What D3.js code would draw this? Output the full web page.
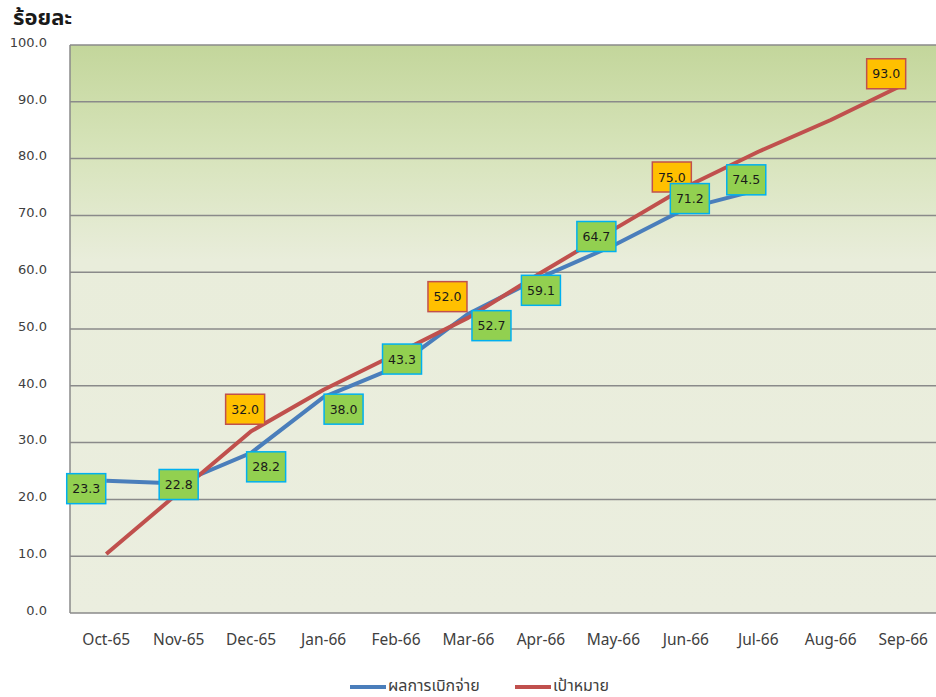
<!DOCTYPE html>
<html><head><meta charset="utf-8">
<script src="https://cdn.jsdelivr.net/npm/d3@7/dist/d3.min.js"></script>
<style>body{margin:0;background:#fff}svg{display:block}</style>
</head><body>
<svg id="c" width="936" height="697"></svg>
<script>
const months = ["Oct-65","Nov-65","Dec-65","Jan-66","Feb-66","Mar-66","Apr-66","May-66","Jun-66","Jul-66","Aug-66","Sep-66"];
const actual = [23.3,22.8,28.2,38.0,43.3,52.7,59.1,64.7,71.2,74.5];
const target = [10.4,21.2,32.0,39.3,45.6,52.0,59.9,67.5,75.0,81.2,86.8,93.0];
const targetLabeled = ["Dec-65","Mar-66","Jun-66","Sep-66"];
const yTicks = [0,10,20,30,40,50,60,70,80,90,100];
const seriesNames = ["ผลการเบิกจ่าย","เป้าหมาย"];
const yTitle = "ร้อยละ";

// label placement offsets (layout only)
const actualOff = [[-20,8],[0,1],[15,14],[20,12],[6,-8],[23,12],[0,13],[-17,-9],[4,-10],[-12,-10]];
const targetOff = {"Dec-65":[-6,-22],"Mar-66":[-21,-21],"Jun-66":[-14,-10],"Sep-66":[-17,-11]};

const svg = d3.select("#c");
const L=70, R=939.4, T=45, B=613;
const x = d3.scaleBand().domain(months).range([L,R]).padding(0);
const cx = m => x(m)+x.bandwidth()/2;
const y = d3.scaleLinear().domain([0,100]).range([B,T]);

const defs = svg.append("defs");
const g = defs.append("linearGradient").attr("id","bg").attr("x1",0).attr("y1",0).attr("x2",0).attr("y2",1);
g.append("stop").attr("offset","0%").attr("stop-color","#c3d69b");
g.append("stop").attr("offset","18%").attr("stop-color","#d6e3b9");
g.append("stop").attr("offset","38%").attr("stop-color","#e9eddb");
g.append("stop").attr("offset","100%").attr("stop-color","#ebeedf");
svg.append("rect").attr("x",L).attr("y",T).attr("width",R-L).attr("height",B-T).attr("fill","url(#bg)");

// gridlines
svg.append("g").selectAll("line").data(yTicks).join("line")
  .attr("x1",L).attr("x2",R).attr("y1",d=>y(d)).attr("y2",d=>y(d))
  .attr("stroke","#8a8a8a").attr("stroke-width",1.5);
svg.append("line").attr("x1",L).attr("x2",L).attr("y1",T).attr("y2",B).attr("stroke","#8a8a8a").attr("stroke-width",1.5);

// y axis labels
const yAxis = d3.axisLeft(y).tickValues(yTicks).tickFormat(d3.format(".1f")).tickSize(0).tickPadding(0);
const ya = svg.append("g").attr("transform","translate(47,0)").call(yAxis);
ya.select(".domain").remove();
ya.selectAll("text").attr("font-family","DejaVu Sans, Verdana, sans-serif").attr("font-size",13).attr("fill","#404040").attr("dy","0.1em");

// x axis labels
const xAxis = d3.axisBottom(x).tickSize(0).tickPadding(0);
const xa = svg.append("g").attr("transform","translate(0,634)").call(xAxis);
xa.select(".domain").remove();
xa.selectAll("text").attr("font-family","Noto Sans, Open Sans, sans-serif").attr("font-size",15.5).attr("fill","#404040");

// title
svg.append("text").attr("x",13).attr("y",25).text(yTitle)
  .attr("font-family","Noto Sans, Noto Sans Thai, sans-serif").attr("font-weight","bold").attr("font-size",22).attr("fill","#1a1a1a");

const line = d3.line().x(d=>cx(d.m)).y(d=>y(d.v));
const tData = target.map((v,i)=>({m:months[i],v}));
const aData = actual.map((v,i)=>({m:months[i],v}));
svg.append("path").datum(aData).attr("d",line).attr("fill","none").attr("stroke","#4a7ebb").attr("stroke-width",4).attr("stroke-linejoin","round");
svg.append("path").datum(tData).attr("d",line).attr("fill","none").attr("stroke","#c0504d").attr("stroke-width",4).attr("stroke-linejoin","round");

function box(px,py,txt,fill,stroke){
  const w=39,h=30;
  const gg = svg.append("g");
  gg.append("rect").attr("x",px-w/2).attr("y",py-h/2).attr("width",w).attr("height",h).attr("fill",fill).attr("stroke",stroke).attr("stroke-width",1.5);
  gg.append("text").attr("x",px).attr("y",py).attr("dy","0.36em").attr("text-anchor","middle")
    .attr("font-family","DejaVu Sans, Verdana, sans-serif").attr("font-size",12.5).attr("fill","#1a1a1a").text(txt);
}
tData.filter(d=>targetLabeled.includes(d.m)).forEach(d=>{
  const o=targetOff[d.m]; box(cx(d.m)+o[0], y(d.v)+o[1], d.v.toFixed(1), "#ffc000", "#c0504d");
});
aData.forEach((d,i)=>{
  const o=actualOff[i]; box(cx(d.m)+o[0], y(d.v)+o[1], d.v.toFixed(1), "#92d050", "#00b0f0");
});

// legend
const leg = [{n:seriesNames[0],c:"#4a7ebb",x:350},{n:seriesNames[1],c:"#c0504d",x:515}];
leg.forEach(l=>{
  svg.append("line").attr("x1",l.x).attr("x2",l.x+36).attr("y1",687).attr("y2",687).attr("stroke",l.c).attr("stroke-width",4);
  svg.append("text").attr("x",l.x+38).attr("y",691).text(l.n)
    .attr("font-family","Noto Sans, Noto Sans Thai, sans-serif").attr("font-size",16).attr("fill","#404040");
});
</script>
</body></html>
